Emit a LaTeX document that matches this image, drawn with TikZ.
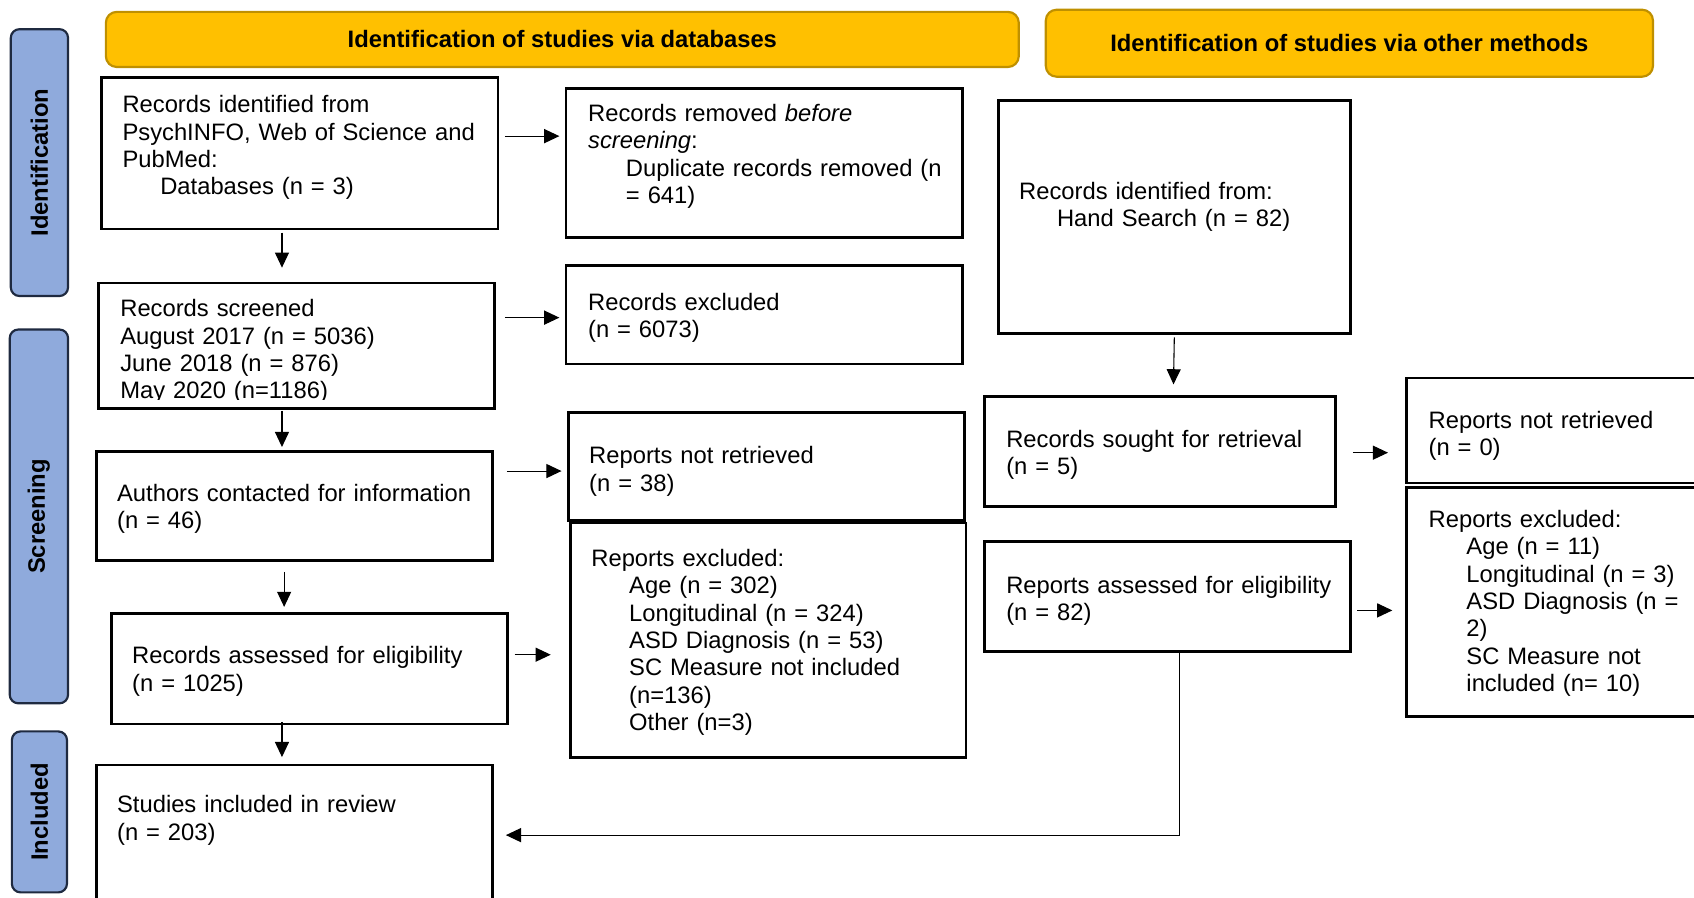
\documentclass[tikz,border=0pt]{standalone}
\usepackage{fontspec}
\setmainfont{Liberation Sans}
\usetikzlibrary{fit,arrows.meta}
\definecolor{hdrfill}{HTML}{FFC000}
\definecolor{hdrline}{HTML}{BF9000}
\definecolor{sidefill}{HTML}{8FAADC}
\definecolor{sideline}{HTML}{1F2A40}
\newcommand{\ind}{\hspace*{17.5pt}}
\tikzset{
  box/.style={draw=black, line width=1.25pt, inner sep=0pt, fill=none},
  hdr/.style={draw=hdrline, fill=hdrfill, line width=1pt, rounded corners=5pt, inner sep=0pt},
  hdrtxt/.style={inner sep=0pt, font=\fontsize{11pt}{12.65pt}\selectfont\bfseries},
  side/.style={draw=sideline, fill=sidefill, line width=1pt, rounded corners=4pt, inner sep=0pt},
  sidetxt/.style={rotate=90, font=\fontsize{11pt}{12.65pt}\selectfont\bfseries, inner sep=0pt},
  txt/.style={anchor=north west, inner sep=0pt, align=left, text width=200pt},
  arr/.style={line width=0.5pt, -{Triangle[length=7pt,width=6.5pt]}}
}
\begin{document}
\begin{tikzpicture}[x=0.5pt, y=-0.5pt, font=\fontsize{11pt}{12.65pt}\selectfont]
\useasboundingbox (0,0) rectangle (1568,831);
\clip (0,0) rectangle (1568,831);

% side bars
\node[side, fit={(10,27) (63,274)}] (sid) {};
\node[sidetxt] (sidt) at (sid.center) {Identification};
\node[side, fit={(9,305) (63,651)}] (sscr) {};
\node[sidetxt] (sscrt) at (sscr.center) {Screening};
\node[side, fit={(11,677) (62,826)}] (sinc) {};
\node[sidetxt] (sinct) at (sinc.center) {Included};

% headers
\node[hdr, fit={(98,11) (943,62)}] (h1) {};
\node[hdrtxt] (h1t) at (h1.center) {Identification of studies via databases};
\node[hdr, fit={(968,9) (1530,71)}] (h2) {};
\node[hdrtxt] (h2t) at (h2.center) {Identification of studies via other methods};

% boxes, databases column
\node[box, fit={(94,72) (461,212)}] (rid) {};
\node[txt] (ridt) at (113,86.2) {\strut Records identified from\\PsychINFO, Web of Science and\\PubMed:\\\ind Databases (n = 3)};

\node[box, fit={(524,82) (891,220)}] (rrem) {};
\node[txt] (rremt) at (544,94.2) {\strut Records removed \textit{before}\\\textit{screening}:\\\ind Duplicate records removed (n\\\ind = 641)};

\begin{scope}
\clip (91,262) rectangle (458,369.5);
\node[txt] (rscrt) at (111,275.2) {\strut Records screened\\August 2017 (n = 5036)\\June 2018 (n = 876)\\May 2020 (n=1186)};
\end{scope}
\node[box, fit={(91,262) (458,378)}] (rscr) {};

\node[box, fit={(524,246) (891,337)}] (rexc) {};
\node[txt] (rexct) at (544,269.2) {\strut Records excluded\\(n = 6073)};

\node[box, fit={(89,418) (456,519)}] (auth) {};
\node[txt] (autht) at (108,446.2) {\strut Authors contacted for information\\(n = 46)};

\node[box, fit={(526,382) (893,482)}] (rnr) {};
\node[txt] (rnrt) at (545,411.2) {\strut Reports not retrieved\\(n = 38)};

\node[box, fit={(528,484) (894,701)}] (repexc) {};
\node[txt] (repexct) at (547,506.2) {\strut Reports excluded:\\\ind Age (n = 302)\\\ind Longitudinal (n = 324)\\\ind ASD Diagnosis (n = 53)\\\ind SC Measure not included\\\ind (n=136)\\\ind Other (n=3)};

\node[box, fit={(103,568) (470,670)}] (rae) {};
\node[txt] (raet) at (122,596.2) {\strut Records assessed for eligibility\\(n = 1025)};

\node[box, fit={(89,708) (456,834)}] (sincl) {};
\node[txt] (sinclt) at (108,734.2) {\strut Studies included in review\\(n = 203)};

% other methods column
\node[box, fit={(924,93) (1250,309)}] (hand) {};
\node[txt] (handt) at (943,166.2) {\strut Records identified from:\\\ind Hand Search (n = 82)};

\node[box, fit={(911,367) (1236,469)}] (sought) {};
\node[txt] (soughtt) at (931,396.2) {\strut Records sought for retrieval\\(n = 5)};

\node[box, fit={(911,501) (1250,603)}] (rae2) {};
\node[txt] (rae2t) at (931,531.2) {\strut Reports assessed for eligibility\\(n = 82)};

\node[box, fit={(1302,350) (1590,447)}] (rnr2) {};
\node[txt] (rnr2t) at (1322,378.2) {\strut Reports not retrieved\\(n = 0)};

\node[box, fit={(1302,451) (1590,663)}] (repexc2) {};
\node[txt] (repexc2t) at (1322,470.2) {\strut Reports excluded:\\\ind Age (n = 11)\\\ind Longitudinal (n = 3)\\\ind ASD Diagnosis (n =\\\ind 2)\\\ind SC Measure not\\\ind included (n= 10)};

% connectors
\draw[arr, shorten <=2.5pt, shorten >=2.5pt] (rid.east |- 0,126) -- (rrem.west |- 0,126);
\draw[arr, shorten <=1pt, shorten >=6.5pt] (rid.south -| 261,0) -- (rscr.north -| 261,0);
\draw[arr, shorten <=4pt, shorten >=2.5pt] (rscr.east |- 0,294) -- (rexc.west |- 0,294);
\draw[arr, shorten <=0.5pt, shorten >=1.5pt] (rscr.south -| 261,0) -- (auth.north -| 261,0);
\draw[arr, shorten <=6pt, shorten >=2.5pt] (auth.east |- 0,436) -- (rnr.west |- 0,436);
\draw[arr, shorten <=4.5pt, shorten >=2.5pt] (auth.south -| 263,0) -- (rae.north -| 263,0);
\draw[arr, shorten <=2.5pt, shorten >=8.5pt] (rae.east |- 0,606) -- (repexc.west |- 0,606);
\draw[arr, shorten <=-1.5pt, shorten >=3pt] (rae.south -| 261,0) -- (sincl.north -| 261,0);
\draw[arr, shorten <=1pt, shorten >=5pt] (hand.south -| 1087,0) -- (sought.north -| 1086,0);
\draw[arr, shorten <=7.5pt, shorten >=8pt] (sought.east |- 0,419) -- (rnr2.west |- 0,419);
\draw[arr, shorten <=2.5pt, shorten >=6pt] (rae2.east |- 0,565) -- (repexc2.west |- 0,565);
\draw[arr, shorten >=5.5pt] (rae2.south -| 1092,0) -- (1092,773) -- (sincl.east |- 0,773);
\end{tikzpicture}
\end{document}
